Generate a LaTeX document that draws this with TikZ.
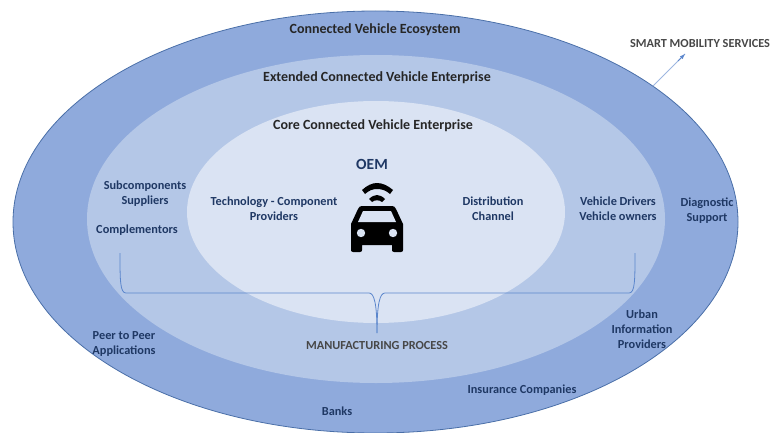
\documentclass[tikz,border=0pt]{standalone}
\usepackage{fontspec}
\setmainfont{Carlito}
\definecolor{outerblue}{HTML}{8FAADC}
\definecolor{midblue}{HTML}{B4C7E7}
\definecolor{innerblue}{HTML}{DAE3F3}
\definecolor{edgeblue}{HTML}{4A6FA8}
\definecolor{lineblue}{HTML}{5B86CC}
\definecolor{navytext}{HTML}{1F3864}
\tikzset{
  ringlabel/.style={font=\bfseries\fontsize{14}{15}\selectfont, text=black!85, align=center},
  itemlabel/.style={font=\bfseries\fontsize{12.3}{15}\selectfont, text=navytext, align=center},
  greylabel/.style={font=\bfseries\fontsize{12.3}{15}\selectfont, text=black!72, align=center},
}
\begin{document}
\begin{tikzpicture}[x=1pt,y=-1pt]
\useasboundingbox (0,0) rectangle (770,433);
\begin{scope}
\clip (0,0) rectangle (770,433);

% Rings
\fill[outerblue, draw=edgeblue, line width=0.8pt] (375.5,222) ellipse [x radius=362.5, y radius=211];
\fill[midblue] (376,219) ellipse [x radius=289, y radius=164];
\fill[innerblue] (376,212) ellipse [x radius=189, y radius=111];
\end{scope}

% Ring titles
\node[ringlabel] (ecosystem) at (375,30) {Connected Vehicle Ecosystem};
\node[ringlabel] (extended) at (377,78) {Extended Connected Vehicle Enterprise};
\node[ringlabel] (core) at (373,126) {Core Connected Vehicle Enterprise};
\node[font=\bfseries\fontsize{15.5}{16}\selectfont, text=navytext] (oem) at (372,164) {OEM};

% Car
\fill[black] (353,252) .. controls (351.5,252) and (351,251) .. (351,250) -- (351,224)
  -- (358,209) .. controls (359,207) and (360,206) .. (362,206) -- (392,206)
  .. controls (394,206) and (395,207) .. (396,209) -- (403,224) -- (403,250)
  .. controls (403,251) and (402.5,252) .. (401,252) -- (394,252)
  .. controls (392.5,252) and (392,251) .. (392,250) -- (392,245) -- (362,245) -- (362,250)
  .. controls (362,251) and (361.5,252) .. (360,252) -- cycle;
\fill[innerblue] (358,222) -- (363,211) -- (391,211) -- (396,222) -- cycle;
\fill[innerblue] (361,233) circle (4.2);
\fill[innerblue] (393,233) circle (4.2);

% Signal
\fill[black] (362,190) .. controls (367,185.5) and (372,183) .. (377,183)
  .. controls (382,183) and (388,185.5) .. (393,190)
  -- (390,194) .. controls (386,190.5) and (382,189) .. (377,189)
  .. controls (372.5,189) and (369,190.5) .. (365,194) -- cycle;
\fill[black] (369,199) .. controls (371.5,196.5) and (374.5,195) .. (377,195)
  .. controls (379.5,195) and (382.5,196.5) .. (385,199)
  -- (382,202) .. controls (380.5,200.8) and (379,200.3) .. (377,200.3)
  .. controls (375,200.3) and (373.5,200.8) .. (372,202) -- cycle;

% Inner labels
\node[itemlabel] (technology) at (274,209) {Technology - Component\\Providers};
\node[itemlabel] (distribution) at (493,209) {Distribution\\Channel};
\node[itemlabel] (subcomponents) at (145,193.5) {Subcomponents\\Suppliers};
\node[itemlabel] (complementors) at (137,230) {Complementors};
\node[itemlabel] (drivers) at (618,209) {Vehicle Drivers\\Vehicle owners};

% Outer labels
\node[itemlabel] (diagnostic) at (707,211) {Diagnostic\\Support};
\node[itemlabel] (urban) at (642,329) {Urban\\Information\\Providers};
\node[itemlabel] (peer) at (124,344) {Peer to Peer\\Applications};
\node[itemlabel] (insurance) at (522,390) {Insurance Companies};
\node[itemlabel] (banks) at (337,411) {Banks};

% Manufacturing brace
\coordinate (braceleft) at (120,253);
\coordinate (braceright) at (635,253);
\coordinate (bracetip) at (377,333);
\draw[lineblue, line width=0.8pt] (braceleft) .. controls (120,280) and (120,293) .. (126,293) -- (369,293)
  .. controls (374,293) and (377,303) .. (bracetip);
\draw[lineblue, line width=0.8pt] (braceright) .. controls (635,280) and (635,293) .. (629,293) -- (385,293)
  .. controls (380,293) and (377,303) .. (bracetip);
\node[greylabel] (manufacturing) at (377,346) {MANUFACTURING PROCESS};

% Smart mobility
\coordinate (arrowstart) at (653,86);
\coordinate (arrowend) at (685,54);
\draw[lineblue!60, line width=0.8pt] (arrowstart) -- (arrowend);
\draw[-latex, lineblue, line width=0.8pt] (678,61) -- (arrowend);
\node[greylabel] (smart) at (700,44) {SMART MOBILITY SERVICES};
\end{tikzpicture}
\end{document}
